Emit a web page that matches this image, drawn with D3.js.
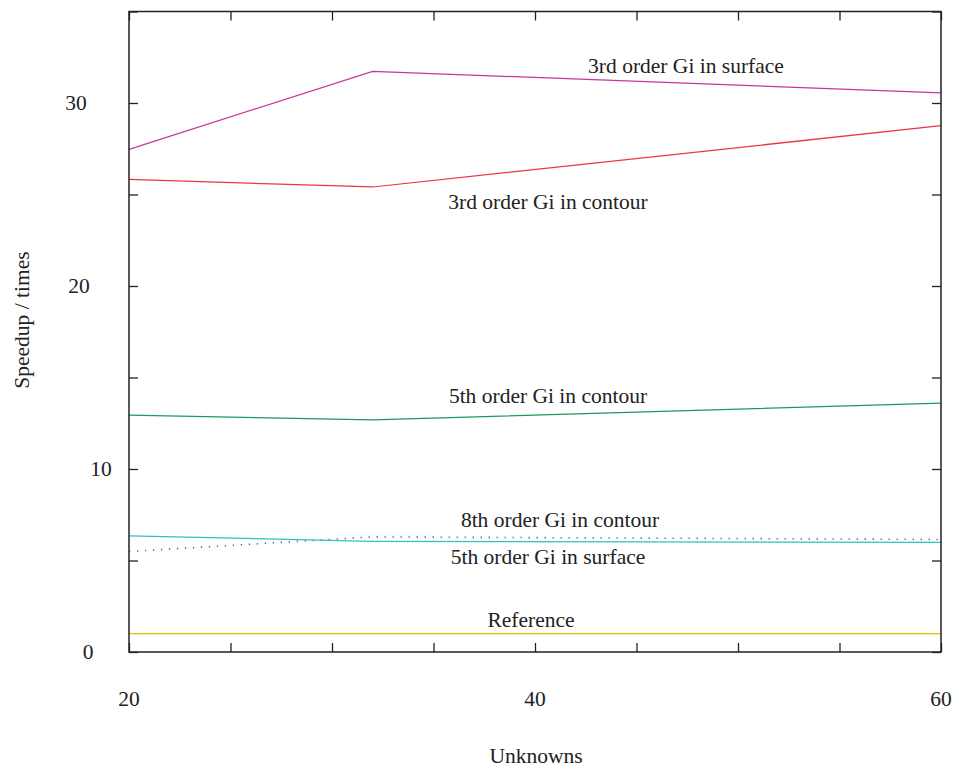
<!DOCTYPE html>
<html>
<head>
<meta charset="utf-8">
<script src="https://cdn.jsdelivr.net/npm/d3@7"></script>
<style>
  html, body { margin: 0; padding: 0; background: #fff; }
  svg text { font-family: "Liberation Serif", "Times New Roman", serif; fill: #222; }
</style>
</head>
<body>
<svg id="chart" width="960" height="775"></svg>
<script>
// Number of unknowns at which the runs were timed
const unknowns = [20, 32, 60];

// Speedup (times) of each configuration
const surface3 = [27.47, 31.73, 30.56];
const contour3 = [25.83, 25.41, 28.76];
const contour5 = [12.95, 12.68, 13.6];
const contour8 = [5.49, 6.29, 6.15];
const surface5 = [6.35, 6.05, 5.99];
const reference = [1, 1, 1];

const xTickLabels = [20, 40, 60];
const yTickLabels = [0, 10, 20, 30];

const series = [
  { name: "3rd order Gi in surface", values: surface3, color: "#c8359f", dash: null, lx: 686, lv: 31.65 },
  { name: "3rd order Gi in contour", values: contour3, color: "#ee3545", dash: null, lx: 548, lv: 24.2 },
  { name: "5th order Gi in contour", values: contour5, color: "#1d9a5a", dash: null, lx: 548, lv: 13.6 },
  { name: "8th order Gi in contour", values: contour8, color: "#5a5ac8", dash: "1.3,6.7", lx: 560, lv: 6.85 },
  { name: "5th order Gi in surface", values: surface5, color: "#2fc0c0", dash: null, lx: 548, lv: 4.8 },
  { name: "Reference", values: reference, color: "#d8c600", dash: null, lx: 531, lv: 1.35 }
];

const m = { left: 129, right: 941, top: 11.5, bottom: 652 };

const svg = d3.select("#chart");
const x = d3.scaleLinear().domain([20, 60]).range([m.left, m.right]);
const y = d3.scaleLinear().domain([0, 35]).range([m.bottom, m.top]);

const tickLen = 9;
const xTicks = d3.range(20, 60.001, 5);
const yTicks = d3.range(0, 35.001, 5);

// Inward ticks mirrored on all four sides
const axisBottom = d3.axisBottom(x).tickValues(xTicks).tickSize(-tickLen).tickFormat("");
const axisTop = d3.axisTop(x).tickValues(xTicks).tickSize(-tickLen).tickFormat("");
const axisLeft = d3.axisLeft(y).tickValues(yTicks).tickSize(-tickLen).tickFormat("");
const axisRight = d3.axisRight(y).tickValues(yTicks).tickSize(-tickLen).tickFormat("");

function styleAxis(g) {
  g.select(".domain").remove();
  g.selectAll(".tick line").attr("stroke", "#222").attr("stroke-width", 1.3);
}
svg.append("g").attr("transform", `translate(0,${m.bottom})`).call(axisBottom).call(styleAxis);
svg.append("g").attr("transform", `translate(0,${m.top})`).call(axisTop).call(styleAxis);
svg.append("g").attr("transform", `translate(${m.left},0)`).call(axisLeft).call(styleAxis);
svg.append("g").attr("transform", `translate(${m.right},0)`).call(axisRight).call(styleAxis);

// Series lines with their labels
const line = d3.line().x((d, i) => x(unknowns[i])).y(d => y(d));
series.forEach(s => {
  svg.append("path")
    .datum(s.values)
    .attr("fill", "none")
    .attr("stroke", s.color)
    .attr("stroke-width", s.dash ? 1.6 : 1.25)
    .attr("stroke-dasharray", s.dash)
    .attr("d", line);
  svg.append("text")
    .attr("x", s.lx)
    .attr("y", y(s.lv))
    .attr("text-anchor", "middle")
    .attr("font-size", 21.5)
    .text(s.name);
});

// Plot frame
svg.append("rect")
  .attr("x", m.left).attr("y", m.top)
  .attr("width", m.right - m.left).attr("height", m.bottom - m.top)
  .attr("fill", "none").attr("stroke", "#222").attr("stroke-width", 1.5);

// Tick labels
const yLabelX = { 0: 88, 10: 101, 20: 79, 30: 76 };
svg.append("g").selectAll("text")
  .data(yTickLabels).join("text")
  .attr("x", d => yLabelX[d])
  .attr("y", d => y(d) + 7)
  .attr("text-anchor", "middle")
  .attr("font-size", 21.5)
  .text(d => d);

svg.append("g").selectAll("text")
  .data(xTickLabels).join("text")
  .attr("x", d => x(d))
  .attr("y", 706)
  .attr("text-anchor", "middle")
  .attr("font-size", 21.5)
  .text(d => d);

// Axis titles
svg.append("text")
  .attr("x", 536).attr("y", 763)
  .attr("text-anchor", "middle")
  .attr("font-size", 21.5)
  .text("Unknowns");

svg.append("text")
  .attr("transform", "translate(29,320) rotate(-90)")
  .attr("text-anchor", "middle")
  .attr("font-size", 21.5)
  .text("Speedup / times");
</script>
</body>
</html>
